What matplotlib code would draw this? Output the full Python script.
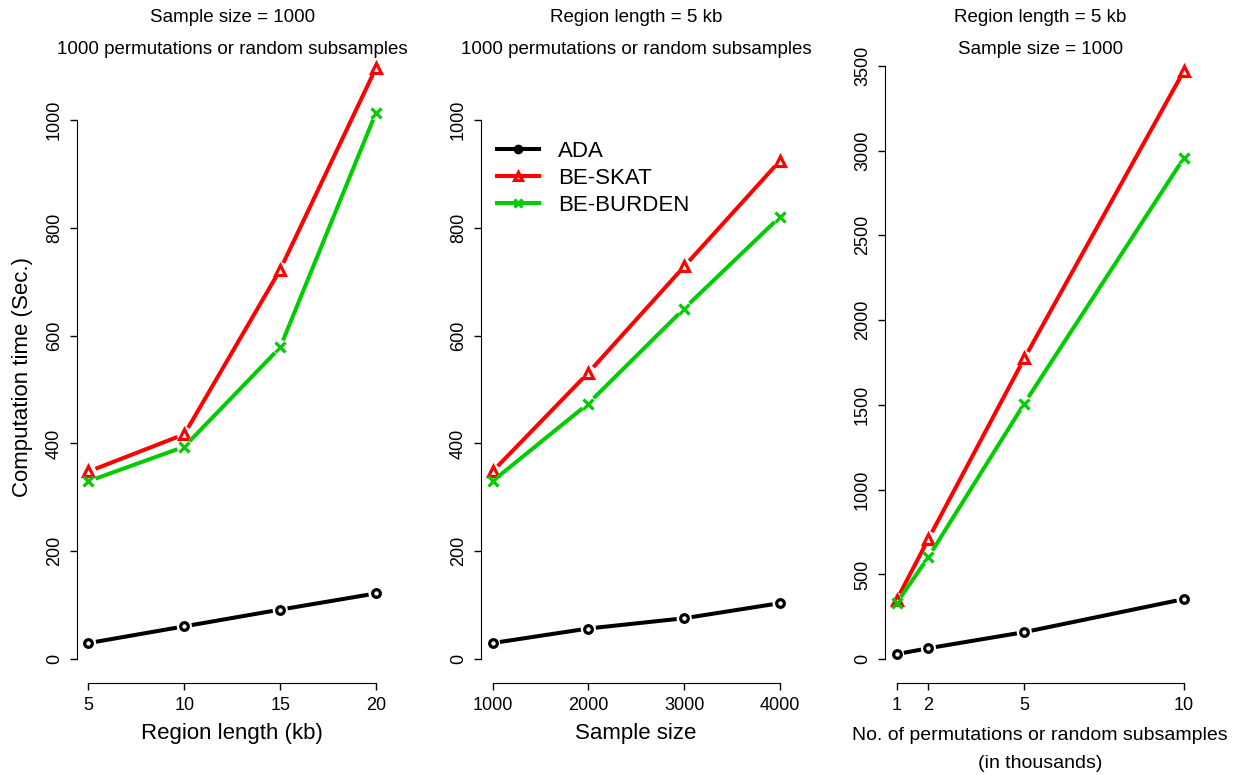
import matplotlib.pyplot as plt
from matplotlib.lines import Line2D
import numpy as np

plt.rcParams['font.family'] = ['Liberation Sans', 'DejaVu Sans']

# computation time (sec.) for each scenario
region_kb = [5, 10, 15, 20]
ada_region = [30, 61, 92, 122]
skat_region = [348, 417, 722, 1096]
burden_region = [330, 394, 578, 1013]

sample_size = [1000, 2000, 3000, 4000]
ada_sample = [30, 57, 76, 104]
skat_sample = [348, 531, 728, 924]
burden_sample = [330, 474, 650, 820]

n_perm = [1, 2, 5, 10]
ada_perm = [30, 65, 160, 355]
skat_perm = [348, 710, 1774, 3471]
burden_perm = [330, 603, 1508, 2957]

methods = ['ADA', 'BE-SKAT', 'BE-BURDEN']
colors = ['black', '#FF0000', '#00CD00']
markers = ['o', '^', 'x']
msizes = [5.5, 7.5, 6.5]

W, H = 1243, 775
fig = plt.figure(figsize=(W / 100, H / 100), dpi=100)


def add_panel(left, right, top=42, bottom=683):
    return fig.add_axes([left / W, 1 - bottom / H, (right - left) / W, (bottom - top) / H])


def gapped_line(ax, x, y, color, gap=7.5):
    # R style type="b": line segments stop short of each point
    pts = ax.transData.transform(np.column_stack([x, y]))
    inv = ax.transData.inverted()
    for p, q in zip(pts[:-1], pts[1:]):
        d = q - p
        u = d / np.hypot(*d)
        seg = inv.transform(np.array([p + u * gap, q - u * gap]))
        ax.plot(seg[:, 0], seg[:, 1], color=color, lw=2.9, solid_capstyle='butt')


def style_axis(ax, xticks, yticks):
    for s in ['top', 'right']:
        ax.spines[s].set_visible(False)
    ax.spines['left'].set_bounds(yticks[0], yticks[-1])
    ax.spines['bottom'].set_bounds(xticks[0], xticks[-1])
    ax.set_xticks(xticks)
    ax.set_yticks(yticks)
    ax.tick_params(direction='out', length=5, width=1, labelsize=13)
    ax.tick_params(axis='x', pad=5)
    ax.tick_params(axis='y', pad=5, labelrotation=90)
    for lab in ax.get_yticklabels():
        lab.set_verticalalignment('center')


panels = [
    (77, 387.5, (4.4, 20.6), (-44, 1144), region_kb,
     [ada_region, skat_region, burden_region], [5, 10, 15, 20], list(range(0, 1001, 200))),
    (481, 791.5, (880, 4120), (-44, 1144), sample_size,
     [ada_sample, skat_sample, burden_sample], [1000, 2000, 3000, 4000], list(range(0, 1001, 200))),
    (885, 1195.5, (0.64, 10.36), (-140, 3640), n_perm,
     [ada_perm, skat_perm, burden_perm], [1, 2, 5, 10], list(range(0, 3501, 500))),
]

axes = []
for left, right, xlim, ylim, xs, series, xt, yt in panels:
    ax = add_panel(left, right)
    ax.set_xlim(*xlim)
    ax.set_ylim(*ylim)
    style_axis(ax, xt, yt)
    for ys, c, m, ms in zip(series, colors, markers, msizes):
        gapped_line(ax, xs, ys, c)
        ax.plot(xs, ys, ls='none', marker=m, ms=ms, mfc='none', mec=c, mew=2.3)
    axes.append(ax)

# titles above each panel
titles = [
    ('Sample size = 1000', '1000 permutations or random subsamples'),
    ('Region length = 5 kb', '1000 permutations or random subsamples'),
    ('Region length = 5 kb', 'Sample size = 1000'),
]
for (left, right, *_), (t1, t2) in zip(panels, titles):
    xc = (left + right) / 2 / W
    fig.text(xc, 1 - 18 / H, t1, ha='center', va='center', fontsize=13.5)
    fig.text(xc, 1 - 50 / H, t2, ha='center', va='center', fontsize=13.5)

fig.text(232 / W, 1 - 733 / H, 'Region length (kb)', ha='center', va='center', fontsize=16)
fig.text(636 / W, 1 - 733 / H, 'Sample size', ha='center', va='center', fontsize=16)
fig.text(1040 / W, 1 - 735 / H, 'No. of permutations or random subsamples',
         ha='center', va='center', fontsize=14)
fig.text(1040 / W, 1 - 764 / H, '(in thousands)', ha='center', va='center', fontsize=14)
fig.text(23 / W, 1 - 377 / H, 'Computation time (Sec.)', ha='center', va='center',
         rotation=90, fontsize=16)

handles = [Line2D([], [], color=c, lw=2.9, marker=m, ms=ms * 0.85, mfc='none', mec=c, mew=2.3)
           for c, m, ms in zip(colors, markers, msizes)]
axes[1].legend(handles, methods, loc='upper left', bbox_to_anchor=(497 / W, 1 - 141 / H),
               bbox_transform=fig.transFigure, frameon=False, fontsize=16,
               handlelength=1.9, handletextpad=0.85, labelspacing=0.27,
               borderpad=0, borderaxespad=0)

fig.savefig('out.png', dpi=100)
